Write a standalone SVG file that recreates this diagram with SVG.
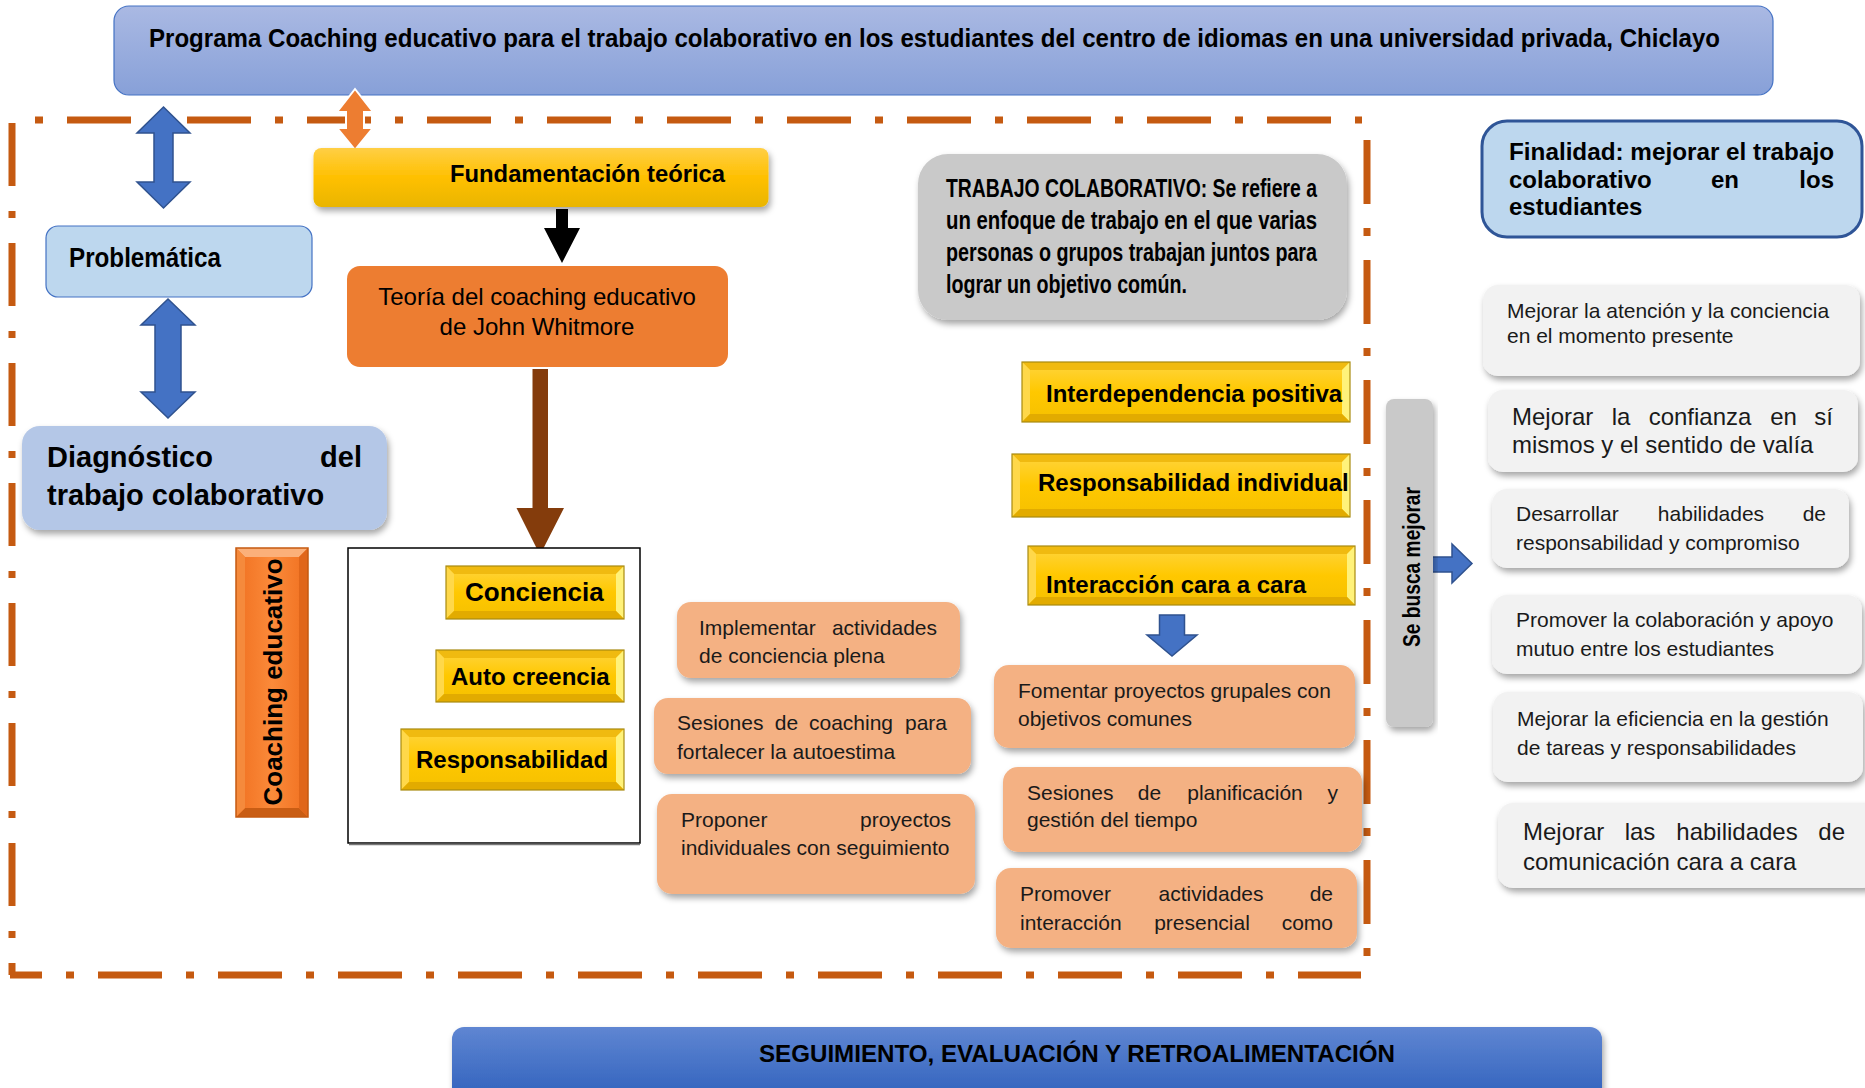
<svg xmlns="http://www.w3.org/2000/svg" width="1865" height="1088" viewBox="0 0 1865 1088">
<defs>
<style>
text{font-family:"Liberation Sans",Arial,Helvetica,sans-serif;fill:#000}
.b{font-weight:bold}
.r21{font-size:21px;fill:#1a1a1a}
.r24{font-size:24px;fill:#1a1a1a}
.y24{font-size:24px;font-weight:bold}
.bd{fill:none;stroke:#c55a11;stroke-width:7}
.peach{fill:#f4b183}
.light{fill:#f2f2f2}
.gray{fill:#c9c9c9}
.barrow{fill:#4472c4;stroke:#2f528f;stroke-width:1.5}
</style>
<filter id="sh" x="-10%" y="-10%" width="120%" height="150%">
<feDropShadow dx="2" dy="4" stdDeviation="3" flood-color="#000" flood-opacity="0.35"/>
</filter>
<linearGradient id="tg" x1="0" y1="0" x2="0" y2="1"><stop offset="0" stop-color="#aab9e3"/><stop offset="1" stop-color="#87a0d8"/></linearGradient>
<linearGradient id="fg" x1="0" y1="0" x2="0" y2="1"><stop offset="0" stop-color="#ffcf45"/><stop offset="0.5" stop-color="#ffc000"/><stop offset="1" stop-color="#e9b500"/></linearGradient>
<linearGradient id="yg" x1="0" y1="0" x2="0" y2="1"><stop offset="0" stop-color="#ffd53f"/><stop offset="0.5" stop-color="#ffc800"/><stop offset="1" stop-color="#f5c000"/></linearGradient>
<linearGradient id="og" x1="0" y1="0" x2="1" y2="0"><stop offset="0" stop-color="#f07020"/><stop offset="0.5" stop-color="#fb8a3a"/><stop offset="1" stop-color="#f07020"/></linearGradient>
<linearGradient id="bg" x1="0" y1="0" x2="0" y2="1"><stop offset="0" stop-color="#5f86d2"/><stop offset="1" stop-color="#2f60bc"/></linearGradient>
</defs>
<rect width="1865" height="1088" fill="#fff"/>

<g id="border">
<line class="bd" x1="35" y1="120" x2="1362" y2="120" stroke-dasharray="8 24 64 24"/>
<line class="bd" x1="12" y1="123" x2="12" y2="975" stroke-dasharray="63 25 7 25"/>
<line class="bd" x1="10" y1="975" x2="1361" y2="975" stroke-dasharray="64 24 8 24" stroke-dashoffset="32"/>
<line class="bd" x1="1367" y1="140" x2="1367" y2="956" stroke-dasharray="64 24 8 24"/>
</g>

<g id="title">
<rect x="114" y="6" width="1659" height="89" rx="15" fill="url(#tg)" stroke="#4472c4" stroke-width="1.2"/>
<text class="b" x="149" y="47" font-size="25" textLength="1571" lengthAdjust="spacingAndGlyphs">Programa Coaching educativo para el trabajo colaborativo en los estudiantes del centro de idiomas en una universidad privada, Chiclayo</text>
</g>

<g id="connectors">
<polygon class="barrow" points="163.5,107 190,133 173,133 173,182 190,182 163.5,208 137,182 154,182 154,133 137,133"/>
<polygon class="barrow" points="168,299 195,325 181,325 181,392 195,392 168,418 141,392 155,392 155,325 141,325"/>
<polygon points="355,89 373,112 364,112 364,128 373,128 355,150 337,128 346,128 346,112 337,112" fill="#ed7d31" stroke="#fff" stroke-width="2"/>
<polygon points="556,209 568,209 568,228 580,228 562,263 544,228 556,228" fill="#000"/>
<polygon points="532.5,369 548,369 548,508 564,508 540,555 516.5,508 532.5,508" fill="#843c0c"/>
<polygon class="barrow" points="1159.5,615 1184.5,615 1184.5,635 1197,635 1172,656 1147,635 1159.5,635"/>
<polygon class="barrow" points="1432,557 1452,557 1452,544 1472,563.5 1452,583 1452,572 1432,572"/>
</g>

<g id="problematica">
<rect x="46" y="226" width="266" height="71" rx="12" fill="#bdd7ee" stroke="#4472c4" stroke-width="1.2"/>
<text class="b" x="69" y="267" font-size="27" textLength="152" lengthAdjust="spacingAndGlyphs">Problemática</text>
</g>

<g id="diagnostico">
<rect x="22" y="426" width="365" height="104" rx="18" fill="#b4c7e7" filter="url(#sh)"/>
<text class="b" x="47" y="467" font-size="29">Diagnóstico</text>
<text class="b" x="362" y="467" font-size="29" text-anchor="end">del</text>
<text class="b" x="47" y="505" font-size="29">trabajo colaborativo</text>
</g>

<g id="coaching">
<rect x="236" y="548" width="72" height="269" fill="url(#og)"/>
<polygon points="236,548 308,548 299,557 245,557" fill="#fbb07a"/>
<polygon points="236,817 245,808 299,808 308,817" fill="#c95d14"/>
<polygon points="236,548 245,557 245,808 236,817" fill="#f58a3c"/>
<polygon points="308,548 299,557 299,808 308,817" fill="#e0661a"/>
<rect x="236" y="548" width="72" height="269" fill="none" stroke="#c55a11" stroke-width="1.5"/>
<text class="b" transform="translate(282,682) rotate(-90)" font-size="26" text-anchor="middle">Coaching educativo</text>
</g>

<g id="fundamentacion">
<rect x="313.5" y="148" width="455" height="59" rx="8" fill="url(#fg)" filter="url(#sh)"/>
<text class="b" x="450" y="182" font-size="23" textLength="275" lengthAdjust="spacingAndGlyphs">Fundamentación teórica</text>
</g>

<g id="teoria">
<rect x="347" y="266" width="381" height="101" rx="13" fill="#ed7d31"/>
<text x="537" y="305" font-size="24" text-anchor="middle" fill="#1a1a1a">Teoría del coaching educativo</text>
<text x="537" y="335" font-size="24" text-anchor="middle" fill="#1a1a1a">de John Whitmore</text>
</g>

<g id="dimensiones">
<rect x="348" y="548" width="292" height="295" fill="#fff" stroke="#000" stroke-width="1.5"/>
<line x1="349" y1="844.5" x2="640" y2="844.5" stroke="#777" stroke-width="1.5"/>
</g>

<g id="conciencia">
<rect x="446" y="566" width="178" height="53" fill="url(#yg)"/>
<polygon points="446,566 624,566 616,574 454,574" fill="#f0ba10"/>
<polygon points="446,566 454,574 454,611 446,619" fill="#ffd84a"/>
<polygon points="624,566 616,574 616,611 624,619" fill="#fff27a"/>
<polygon points="446,619 454,611 616,611 624,619" fill="#e2ab00"/>
<rect x="446" y="566" width="178" height="53" fill="none" stroke="#a88a10" stroke-width="1.2"/>
<text class="b" x="465" y="601" font-size="26">Conciencia</text>
</g>

<g id="autocreencia">
<rect x="436" y="650" width="188" height="52" fill="url(#yg)"/>
<polygon points="436,650 624,650 616,658 444,658" fill="#f0ba10"/>
<polygon points="436,650 444,658 444,694 436,702" fill="#ffd84a"/>
<polygon points="624,650 616,658 616,694 624,702" fill="#fff27a"/>
<polygon points="436,702 444,694 616,694 624,702" fill="#e2ab00"/>
<rect x="436" y="650" width="188" height="52" fill="none" stroke="#a88a10" stroke-width="1.2"/>
<text class="y24" x="451" y="685">Auto creencia</text>
</g>

<g id="responsabilidad">
<rect x="401" y="729" width="223" height="61" fill="url(#yg)"/>
<polygon points="401,729 624,729 616,737 409,737" fill="#f0ba10"/>
<polygon points="401,729 409,737 409,782 401,790" fill="#ffd84a"/>
<polygon points="624,729 616,737 616,782 624,790" fill="#fff27a"/>
<polygon points="401,790 409,782 616,782 624,790" fill="#e2ab00"/>
<rect x="401" y="729" width="223" height="61" fill="none" stroke="#a88a10" stroke-width="1.2"/>
<text class="y24" x="416" y="768">Responsabilidad</text>
</g>

<g id="implementar">
<rect class="peach" x="677" y="602" width="283" height="76" rx="14" filter="url(#sh)"/>
<text class="r21" x="699" y="635">Implementar</text>
<text class="r21" x="937" y="635" text-anchor="end">actividades</text>
<text class="r21" x="699" y="663">de conciencia plena</text>
</g>

<g id="sesiones-coaching">
<rect class="peach" x="654" y="698" width="317" height="76" rx="14" filter="url(#sh)"/>
<text class="r21" x="677" y="730">Sesiones</text>
<text class="r21" x="786.5" y="730" text-anchor="middle">de</text>
<text class="r21" x="851" y="730" text-anchor="middle">coaching</text>
<text class="r21" x="947" y="730" text-anchor="end">para</text>
<text class="r21" x="677" y="759">fortalecer la autoestima</text>
</g>

<g id="proponer">
<rect class="peach" x="657" y="794" width="318" height="100" rx="15" filter="url(#sh)"/>
<text class="r21" x="681" y="827">Proponer</text>
<text class="r21" x="951" y="827" text-anchor="end">proyectos</text>
<text class="r21" x="681" y="855">individuales con seguimiento</text>
</g>

<g id="trabajo-colaborativo">
<rect class="gray" x="918" y="154" width="429" height="166" rx="30" filter="url(#sh)"/>
<text class="b" x="946" y="197" font-size="25" textLength="371" lengthAdjust="spacingAndGlyphs">TRABAJO COLABORATIVO: Se refiere a</text>
<text class="b" x="946" y="229" font-size="25" textLength="371" lengthAdjust="spacingAndGlyphs">un enfoque de trabajo en el que varias</text>
<text class="b" x="946" y="261" font-size="25" textLength="371" lengthAdjust="spacingAndGlyphs">personas o grupos trabajan juntos para</text>
<text class="b" x="946" y="293" font-size="25" textLength="241" lengthAdjust="spacingAndGlyphs">lograr un objetivo común.</text>
</g>

<g id="interdependencia">
<rect x="1022" y="362" width="328" height="60" fill="url(#yg)"/>
<polygon points="1022,362 1350,362 1342,370 1030,370" fill="#f0ba10"/>
<polygon points="1022,362 1030,370 1030,414 1022,422" fill="#ffd84a"/>
<polygon points="1350,362 1342,370 1342,414 1350,422" fill="#fff27a"/>
<polygon points="1022,422 1030,414 1342,414 1350,422" fill="#e2ab00"/>
<rect x="1022" y="362" width="328" height="60" fill="none" stroke="#a88a10" stroke-width="1.2"/>
<text class="y24" x="1046" y="402">Interdependencia positiva</text>
</g>

<g id="resp-individual">
<rect x="1012" y="454" width="338" height="63" fill="url(#yg)"/>
<polygon points="1012,454 1350,454 1342,462 1020,462" fill="#f0ba10"/>
<polygon points="1012,454 1020,462 1020,509 1012,517" fill="#ffd84a"/>
<polygon points="1350,454 1342,462 1342,509 1350,517" fill="#fff27a"/>
<polygon points="1012,517 1020,509 1342,509 1350,517" fill="#e2ab00"/>
<rect x="1012" y="454" width="338" height="63" fill="none" stroke="#a88a10" stroke-width="1.2"/>
<text class="y24" x="1038" y="491">Responsabilidad individual</text>
</g>

<g id="interaccion">
<rect x="1028" y="546" width="327" height="59" fill="url(#yg)"/>
<polygon points="1028,546 1355,546 1347,554 1036,554" fill="#f0ba10"/>
<polygon points="1028,546 1036,554 1036,597 1028,605" fill="#ffd84a"/>
<polygon points="1355,546 1347,554 1347,597 1355,605" fill="#fff27a"/>
<polygon points="1028,605 1036,597 1347,597 1355,605" fill="#e2ab00"/>
<rect x="1028" y="546" width="327" height="59" fill="none" stroke="#a88a10" stroke-width="1.2"/>
<text class="y24" x="1046" y="593">Interacción cara a cara</text>
</g>

<g id="fomentar">
<rect class="peach" x="994" y="665" width="361" height="83" rx="15" filter="url(#sh)"/>
<text class="r21" x="1018" y="698">Fomentar proyectos grupales con</text>
<text class="r21" x="1018" y="726">objetivos comunes</text>
</g>

<g id="sesiones-planificacion">
<rect class="peach" x="1003" y="767" width="359" height="85" rx="15" filter="url(#sh)"/>
<text class="r21" x="1027" y="800">Sesiones</text>
<text class="r21" x="1149.5" y="800" text-anchor="middle">de</text>
<text class="r21" x="1245" y="800" text-anchor="middle">planificación</text>
<text class="r21" x="1338" y="800" text-anchor="end">y</text>
<text class="r21" x="1027" y="827">gestión del tiempo</text>
</g>

<g id="promover-actividades">
<rect class="peach" x="996" y="868" width="361" height="80" rx="15" filter="url(#sh)"/>
<text class="r21" x="1020" y="901">Promover</text>
<text class="r21" x="1211" y="901" text-anchor="middle">actividades</text>
<text class="r21" x="1333" y="901" text-anchor="end">de</text>
<text class="r21" x="1020" y="930">interacción</text>
<text class="r21" x="1202" y="930" text-anchor="middle">presencial</text>
<text class="r21" x="1333" y="930" text-anchor="end">como</text>
</g>

<g id="se-busca-mejorar">
<rect class="gray" x="1386" y="399" width="47" height="328" rx="8" filter="url(#sh)"/>
<text class="b" transform="translate(1420,567) rotate(-90)" font-size="23" text-anchor="middle" textLength="160" lengthAdjust="spacingAndGlyphs">Se busca mejorar</text>
</g>

<g id="finalidad">
<rect x="1482" y="121" width="380" height="116" rx="25" fill="#bdd7ee" stroke="#2f5597" stroke-width="3"/>
<text class="b" x="1509" y="160" font-size="24" textLength="325" lengthAdjust="spacingAndGlyphs">Finalidad: mejorar el trabajo</text>
<text class="b" x="1509" y="188" font-size="24">colaborativo</text>
<text class="b" x="1725" y="188" font-size="24" text-anchor="middle">en</text>
<text class="b" x="1834" y="188" font-size="24" text-anchor="end">los</text>
<text class="b" x="1509" y="215" font-size="24">estudiantes</text>
</g>

<g id="m1">
<rect class="light" x="1483" y="285" width="377" height="91" rx="15" filter="url(#sh)"/>
<text class="r21" x="1507" y="318">Mejorar la atención y la conciencia</text>
<text class="r21" x="1507" y="343">en el momento presente</text>
</g>

<g id="m2">
<rect class="light" x="1488" y="390" width="370" height="82" rx="15" filter="url(#sh)"/>
<text class="r24" x="1512" y="425">Mejorar</text>
<text class="r24" x="1621" y="425" text-anchor="middle">la</text>
<text class="r24" x="1700" y="425" text-anchor="middle">confianza</text>
<text class="r24" x="1783.5" y="425" text-anchor="middle">en</text>
<text class="r24" x="1833" y="425" text-anchor="end">sí</text>
<text class="r24" x="1512" y="453">mismos y el sentido de valía</text>
</g>

<g id="m3">
<rect class="light" x="1492" y="489" width="357" height="79" rx="15" filter="url(#sh)"/>
<text class="r21" x="1516" y="521">Desarrollar</text>
<text class="r21" x="1711" y="521" text-anchor="middle">habilidades</text>
<text class="r21" x="1826" y="521" text-anchor="end">de</text>
<text class="r21" x="1516" y="550">responsabilidad y compromiso</text>
</g>

<g id="m4">
<rect class="light" x="1492" y="595" width="370" height="79" rx="15" filter="url(#sh)"/>
<text class="r21" x="1516" y="627">Promover la colaboración y apoyo</text>
<text class="r21" x="1516" y="656">mutuo entre los estudiantes</text>
</g>

<g id="m5">
<rect class="light" x="1493" y="692" width="370" height="90" rx="15" filter="url(#sh)"/>
<text class="r21" x="1517" y="726">Mejorar la eficiencia en la gestión</text>
<text class="r21" x="1517" y="755">de tareas y responsabilidades</text>
</g>

<g id="m6">
<rect class="light" x="1498" y="803" width="380" height="85" rx="15" filter="url(#sh)"/>
<text class="r24" x="1523" y="840">Mejorar</text>
<text class="r24" x="1640" y="840" text-anchor="middle">las</text>
<text class="r24" x="1737" y="840" text-anchor="middle">habilidades</text>
<text class="r24" x="1845" y="840" text-anchor="end">de</text>
<text class="r24" x="1523" y="870">comunicación cara a cara</text>
</g>

<g id="seguimiento">
<rect x="452" y="1027" width="1150" height="75" rx="12" fill="url(#bg)" filter="url(#sh)"/>
<text class="b" x="759" y="1062" font-size="24" textLength="636" lengthAdjust="spacingAndGlyphs">SEGUIMIENTO, EVALUACIÓN Y RETROALIMENTACIÓN</text>
</g>
</svg>
